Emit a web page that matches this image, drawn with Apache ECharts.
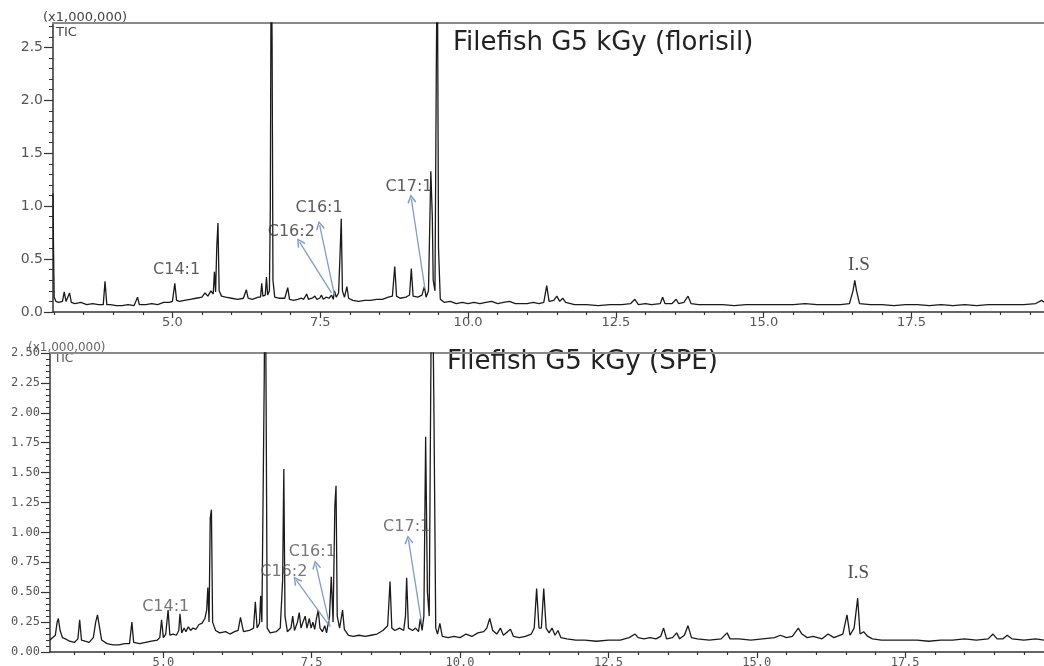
<!DOCTYPE html>
<html><head><meta charset="utf-8">
<script src="https://cdn.jsdelivr.net/npm/echarts@6/dist/echarts.min.js"></script>
<style>html,body{margin:0;padding:0;background:#fff}#c{width:1044px;height:666px}</style>
</head><body><div id="c"></div>
<script>
// ---- Florisil trace (retention time, min ; TIC x1,000,000) ----
const floTime = [2.98,2.99,3.00,3.03,3.08,3.14,3.17,3.20,3.23,3.26,3.29,3.35,3.45,3.55,3.65,3.75,3.83,3.86,3.89,3.95,
4.05,4.15,4.25,4.35,4.38,4.41,4.44,4.55,4.65,4.75,4.85,4.95,5.00,5.04,5.07,5.12,5.20,5.30,5.40,5.50,
5.55,5.60,5.65,5.69,5.71,5.73,5.75,5.77,5.79,5.83,5.90,6.00,6.10,6.20,6.25,6.28,6.35,6.45,6.49,6.51,
6.53,6.57,6.59,6.61,6.64,6.655,6.67,6.685,6.70,6.73,6.80,6.90,6.95,6.98,7.05,7.12,7.18,7.22,7.27,7.30,
7.36,7.41,7.44,7.49,7.52,7.55,7.60,7.65,7.69,7.72,7.74,7.77,7.81,7.835,7.855,7.875,7.91,7.95,7.98,8.05,
8.15,8.25,8.35,8.45,8.55,8.65,8.72,8.76,8.79,8.85,8.95,9.01,9.04,9.07,9.15,9.22,9.26,9.29,9.33,9.37,
9.395,9.41,9.44,9.465,9.48,9.50,9.53,9.60,9.70,9.80,9.90,10.0,10.1,10.2,10.3,10.4,10.5,10.6,10.7,10.8,
10.9,11.0,11.1,11.2,11.28,11.33,11.37,11.45,11.50,11.55,11.60,11.65,11.8,12.0,12.2,12.4,12.6,12.75,12.82,12.88,
13.0,13.1,13.25,13.29,13.33,13.45,13.52,13.56,13.65,13.72,13.77,13.9,14.1,14.3,14.5,14.7,14.9,15.1,15.3,15.5,
15.7,15.9,16.1,16.3,16.45,16.51,16.54,16.57,16.62,16.8,17.0,17.2,17.4,17.6,17.8,18.0,18.2,18.4,18.6,18.8,
19.0,19.2,19.4,19.6,19.7,19.75];
const floTIC = [1.12,0.55,0.14,0.10,0.09,0.10,0.19,0.10,0.11,0.18,0.09,0.08,0.09,0.07,0.08,0.07,0.07,0.29,0.07,0.07,
0.06,0.06,0.07,0.06,0.07,0.14,0.07,0.07,0.08,0.07,0.09,0.09,0.10,0.27,0.11,0.10,0.11,0.12,0.13,0.14,
0.18,0.15,0.20,0.17,0.38,0.19,0.62,0.84,0.20,0.15,0.14,0.13,0.12,0.13,0.21,0.13,0.12,0.14,0.14,0.27,
0.15,0.16,0.33,0.16,0.20,0.97,3.50,2.60,0.30,0.14,0.13,0.13,0.23,0.12,0.11,0.12,0.13,0.12,0.17,0.12,
0.13,0.15,0.12,0.13,0.16,0.12,0.14,0.13,0.16,0.12,0.20,0.14,0.18,0.55,0.88,0.20,0.14,0.24,0.13,0.11,
0.10,0.11,0.11,0.12,0.12,0.14,0.15,0.43,0.15,0.13,0.14,0.16,0.41,0.15,0.14,0.16,0.24,0.14,0.20,1.33,
0.90,0.30,0.20,2.50,3.50,0.60,0.12,0.09,0.10,0.08,0.09,0.08,0.09,0.08,0.09,0.10,0.08,0.09,0.10,0.08,
0.08,0.08,0.09,0.08,0.09,0.25,0.10,0.11,0.15,0.10,0.13,0.09,0.07,0.07,0.06,0.07,0.07,0.08,0.12,0.07,
0.08,0.07,0.08,0.14,0.08,0.08,0.12,0.08,0.09,0.15,0.08,0.07,0.07,0.07,0.06,0.07,0.07,0.07,0.07,0.07,
0.08,0.07,0.07,0.07,0.08,0.20,0.30,0.20,0.08,0.07,0.07,0.06,0.07,0.07,0.06,0.07,0.06,0.07,0.06,0.07,
0.07,0.07,0.07,0.08,0.11,0.09];

// ---- SPE trace ----
const speTime = [3.09,3.12,3.18,3.21,3.23,3.26,3.30,3.35,3.42,3.50,3.56,3.59,3.62,3.68,3.75,3.82,3.86,3.89,3.92,3.96,
4.05,4.15,4.25,4.35,4.43,4.47,4.50,4.60,4.70,4.80,4.90,4.94,4.97,5.00,5.04,5.08,5.11,5.16,5.22,5.26,
5.28,5.31,5.35,5.38,5.42,5.46,5.50,5.55,5.60,5.65,5.70,5.73,5.75,5.77,5.79,5.81,5.83,5.88,5.95,6.05,
6.12,6.20,6.26,6.30,6.35,6.45,6.52,6.55,6.58,6.62,6.64,6.66,6.70,6.715,6.73,6.75,6.80,6.90,6.97,7.01,
7.03,7.05,7.09,7.15,7.18,7.21,7.26,7.29,7.32,7.36,7.39,7.42,7.46,7.49,7.52,7.55,7.58,7.61,7.64,7.68,
7.72,7.75,7.80,7.83,7.86,7.89,7.91,7.93,7.97,8.02,8.05,8.12,8.20,8.30,8.40,8.50,8.60,8.70,8.78,8.82,
8.85,8.90,8.98,9.05,9.08,9.10,9.13,9.20,9.25,9.30,9.33,9.36,9.39,9.42,9.45,9.48,9.51,9.53,9.56,9.59,
9.62,9.66,9.70,9.80,9.90,10.0,10.1,10.2,10.3,10.4,10.45,10.5,10.55,10.62,10.68,10.73,10.8,10.85,10.9,11.0,
11.1,11.2,11.25,11.29,11.33,11.37,11.41,11.45,11.5,11.55,11.6,11.65,11.7,11.8,11.95,12.1,12.3,12.5,12.7,12.85,
12.95,13.0,13.1,13.2,13.3,13.38,13.43,13.48,13.58,13.65,13.7,13.78,13.84,13.9,14.0,14.2,14.4,14.5,14.55,14.7,
14.9,15.1,15.3,15.4,15.5,15.6,15.7,15.76,15.85,15.95,16.1,16.2,16.3,16.45,16.52,16.57,16.64,16.7,16.74,16.8,
16.87,16.95,17.1,17.3,17.5,17.7,17.9,18.1,18.3,18.5,18.7,18.9,18.98,19.05,19.15,19.22,19.3,19.5,19.7,19.84];
const speTIC = [0.10,0.11,0.14,0.25,0.28,0.18,0.12,0.11,0.09,0.08,0.11,0.27,0.10,0.09,0.08,0.12,0.25,0.31,0.22,0.10,
0.07,0.06,0.06,0.07,0.07,0.25,0.08,0.07,0.08,0.09,0.10,0.12,0.27,0.12,0.15,0.35,0.14,0.15,0.14,0.18,
0.32,0.16,0.20,0.17,0.21,0.18,0.20,0.19,0.23,0.24,0.28,0.35,0.54,0.25,1.12,1.19,0.25,0.18,0.16,0.17,
0.15,0.17,0.18,0.29,0.17,0.18,0.20,0.42,0.20,0.24,0.47,0.25,2.28,3.50,2.30,0.20,0.16,0.17,0.20,0.60,
1.53,0.30,0.17,0.20,0.30,0.18,0.25,0.33,0.20,0.26,0.30,0.20,0.28,0.20,0.25,0.19,0.28,0.35,0.20,0.17,
0.22,0.16,0.30,0.63,0.25,1.22,1.39,0.30,0.20,0.35,0.19,0.14,0.13,0.14,0.13,0.14,0.15,0.18,0.22,0.59,
0.20,0.18,0.20,0.18,0.30,0.62,0.20,0.18,0.20,0.17,0.28,0.18,0.30,1.80,0.50,0.30,2.50,3.50,2.00,0.20,
0.15,0.24,0.13,0.12,0.13,0.12,0.15,0.13,0.16,0.17,0.20,0.28,0.18,0.15,0.20,0.14,0.17,0.19,0.13,0.12,
0.13,0.15,0.20,0.53,0.20,0.20,0.53,0.20,0.16,0.20,0.14,0.18,0.12,0.11,0.10,0.10,0.09,0.10,0.10,0.12,
0.15,0.12,0.11,0.12,0.11,0.13,0.20,0.11,0.12,0.16,0.11,0.14,0.22,0.12,0.11,0.10,0.11,0.16,0.11,0.11,
0.10,0.11,0.12,0.14,0.12,0.13,0.20,0.15,0.12,0.13,0.11,0.15,0.12,0.15,0.31,0.14,0.20,0.45,0.15,0.17,
0.13,0.11,0.10,0.10,0.10,0.10,0.09,0.10,0.10,0.11,0.10,0.11,0.15,0.11,0.11,0.14,0.11,0.10,0.11,0.10];

// ---- axis ticks / labels ----
const xLabelTicks = [5.0, 7.5, 10.0, 12.5, 15.0, 17.5];
const xMinorTicks = [3.0,3.5,4.0,4.5,5.5,6.0,6.5,7.0,8.0,8.5,9.0,9.5,10.5,11.0,11.5,12.0,13.0,13.5,14.0,14.5,15.5,16.0,16.5,17.0,18.0,18.5,19.0,19.5];
const floYLabels = [0.0, 0.5, 1.0, 1.5, 2.0, 2.5];
const floYMinor = [0.1,0.2,0.3,0.4,0.6,0.7,0.8,0.9,1.1,1.2,1.3,1.4,1.6,1.7,1.8,1.9,2.1,2.2,2.3,2.4,2.6,2.7];
const speYLabels = [0.00, 0.25, 0.50, 0.75, 1.00, 1.25, 1.50, 1.75, 2.00, 2.25, 2.50];
const speYMinor = [0.05,0.10,0.15,0.20,0.30,0.35,0.40,0.45,0.55,0.60,0.65,0.70,0.80,0.85,0.90,0.95,1.05,1.10,1.15,1.20,
1.30,1.35,1.40,1.45,1.55,1.60,1.65,1.70,1.80,1.85,1.90,1.95,2.05,2.10,2.15,2.20,2.30,2.35,2.40,2.45];

// ---- annotations ----
const floNoteNames = ['C14:1', 'C16:2', 'C16:1', 'C17:1', 'I.S'];
const floNoteTime = [5.07, 7.01, 7.48, 9.00, 16.61];
const floNoteTIC = [0.40, 0.76, 0.98, 1.18, 0.44];
const speNoteNames = ['C14:1', 'C16:2', 'C16:1', 'C17:1', 'I.S'];
const speNoteTime = [5.04, 7.03, 7.51, 9.10, 16.71];
const speNoteTIC = [0.38, 0.67, 0.84, 1.05, 0.66];
const floArrowFrom = [[7.69, 0.18], [7.74, 0.16], [9.27, 0.22]];
const floArrowTo = [[7.15, 0.66], [7.49, 0.82], [9.04, 1.07]];
const speArrowFrom = [[7.78, 0.23], [7.81, 0.21], [9.35, 0.25]];
const speArrowTo = [[7.24, 0.60], [7.57, 0.73], [9.13, 0.94]];

const chart = echarts.init(document.getElementById('c'), null, {renderer: 'canvas'});
const zip = (a, b) => a.map((t, i) => [t, b[i]]);
const AX = '#333';
const chevron = 'path://M5,0 L10,9 L8.6,10 L5,3.2 L1.4,10 L0,9 Z';

function xAxes(gi, min, max, font, size, margin) {
  const minor = xMinorTicks.filter(v => v >= min && v <= max);
  return [
    {type: 'value', gridIndex: gi, min, max, position: 'bottom',
     axisLine: {show: true, onZero: false, lineStyle: {color: AX, width: 1.5}},
     axisTick: {show: true, customValues: xLabelTicks, length: 6, lineStyle: {color: AX, width: 1.2}},
     axisLabel: {show: true, customValues: xLabelTicks, formatter: v => Number(v).toFixed(1), fontFamily: font, fontSize: size, color: '#555', margin},
     splitLine: {show: false}},
    {type: 'value', gridIndex: gi, min, max, position: 'bottom',
     axisLine: {show: false, onZero: false},
     axisTick: {show: true, customValues: minor, length: 3, lineStyle: {color: AX, width: 1.2}},
     axisLabel: {show: false}, splitLine: {show: false}},
    {type: 'value', gridIndex: gi, min, max, position: 'top',
     axisLine: {show: true, onZero: false, lineStyle: {color: '#8a8a8a', width: 2}},
     axisTick: {show: false}, axisLabel: {show: false}, splitLine: {show: false}}
  ];
}
function yAxes(gi, max, labels, minor, dec, font, size) {
  return [
    {type: 'value', gridIndex: gi, min: 0, max, position: 'left',
     axisLine: {show: true, onZero: false, lineStyle: {color: AX, width: 1.5}},
     axisTick: {show: true, customValues: labels, length: 9, lineStyle: {color: AX, width: 1.2}},
     axisLabel: {show: true, customValues: labels, formatter: v => Number(v).toFixed(dec), fontFamily: font, fontSize: size, color: '#555', margin: 10},
     splitLine: {show: false}},
    {type: 'value', gridIndex: gi, min: 0, max, position: 'left',
     axisLine: {show: false, onZero: false},
     axisTick: {show: true, customValues: minor, length: 4, lineStyle: {color: AX, width: 1}},
     axisLabel: {show: false}, splitLine: {show: false}}
  ];
}
function notes(names, times, tics, xi, yi, color, sizes) {
  return {
    type: 'scatter', xAxisIndex: xi, yAxisIndex: yi, symbolSize: 0, silent: true, animation: false, z: 5,
    data: names.map((n, i) => ({
      name: n, value: [times[i], tics[i]],
      label: n === 'I.S'
        ? {fontFamily: '"Liberation Serif"', fontSize: sizes[1], color: '#222'}
        : {fontFamily: '"DejaVu Sans"', fontSize: sizes[0], color}
    })),
    label: {show: true, position: 'inside', formatter: p => p.name}
  };
}
function arrows(from, to) {
  return {
    silent: true, animation: false, symbol: ['none', chevron], symbolSize: [9, 9],
    lineStyle: {color: '#7f9dc9', width: 1.3, type: 'solid'},
    label: {show: false}, emphasis: {disabled: true},
    data: from.map((f, i) => [{coord: f}, {coord: to[i]}])
  };
}

const option = {
  animation: false,
  grid: [
    {left: 53, top: 23, right: 0, bottom: 354, containLabel: false, outerBoundsMode: 'none'},
    {left: 50, top: 353, right: 0, bottom: 14, containLabel: false, outerBoundsMode: 'none'}
  ],
  xAxis: [
    ...xAxes(0, 2.98, 19.74, '"DejaVu Sans"', 13, 4),
    ...xAxes(1, 3.09, 19.84, '"DejaVu Sans Mono"', 12, 5)
  ],
  yAxis: [
    ...yAxes(0, 2.73, floYLabels, floYMinor, 1, '"DejaVu Sans"', 14),
    ...yAxes(1, 2.5, speYLabels, speYMinor, 2, '"DejaVu Sans Mono"', 12)
  ],
  series: [
    {type: 'line', xAxisIndex: 0, yAxisIndex: 0, data: zip(floTime, floTIC), showSymbol: false, symbol: 'none',
     clip: true, lineStyle: {color: '#1a1a1a', width: 1.3}, silent: true, z: 3,
     markLine: arrows(floArrowFrom, floArrowTo)},
    notes(floNoteNames, floNoteTime, floNoteTIC, 0, 0, '#333', [16, 19]),
    {type: 'line', xAxisIndex: 3, yAxisIndex: 2, data: zip(speTime, speTIC), showSymbol: false, symbol: 'none',
     clip: true, lineStyle: {color: '#1a1a1a', width: 1.3}, silent: true, z: 3,
     markLine: arrows(speArrowFrom, speArrowTo)},
    notes(speNoteNames, speNoteTime, speNoteTIC, 3, 2, '#555', [16, 19])
  ],
  graphic: [
    {type: 'text', left: 453, top: 30, style: {text: 'Filefish G5 kGy (florisil)', font: '26px "DejaVu Sans"', fill: '#222'}},
    {type: 'text', left: 447, top: 349, style: {text: 'Filefish G5 kGy (SPE)', font: '26px "DejaVu Sans"', fill: '#222'}},
    {type: 'text', left: 56, top: 26, style: {text: 'TIC', font: '13px "DejaVu Sans"', fill: '#444'}},
    {type: 'text', left: 54, top: 353, style: {text: 'TIC', font: '12px "DejaVu Sans"', fill: '#555'}},
    {type: 'text', left: 43, top: 11, style: {text: '(x1,000,000)', font: '13px "DejaVu Sans"', fill: '#444'}},
    {type: 'text', left: 28, top: 342, style: {text: '(x1,000,000)', font: '12px "DejaVu Sans"', fill: '#666'}}
  ]
};
chart.setOption(option);
</script>
</body></html>
